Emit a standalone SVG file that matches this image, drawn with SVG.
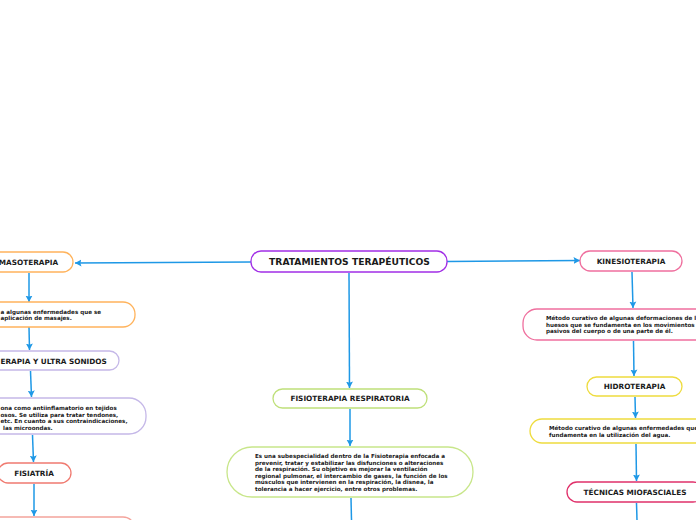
<svg xmlns="http://www.w3.org/2000/svg" width="696" height="520" viewBox="0 0 696 520">
<style>
.n{fill:#fff;stroke-width:1.3}
.t{font-family:"DejaVu Sans",Verdana,sans-serif;font-weight:bold;fill:#1a1a1a}
.h{font-size:7.3px;text-anchor:middle}
.d{font-size:5.6px}
.c path{fill:none;stroke:#1e98e6;stroke-width:1.5}
</style>
<defs>
<marker id="a" markerUnits="userSpaceOnUse" markerWidth="8" markerHeight="8" refX="6.5" refY="4" orient="auto">
<path d="M0,0.5 L6.5,4 L0,7.5 L1.2,4 z" fill="#1e98e6"/>
</marker>
</defs>
<rect width="696" height="520" fill="#fff"/>
<g class="c">
<path d="M251,262 L75,263" marker-end="url(#a)"/>
<path d="M447,261.5 L580,260.5" marker-end="url(#a)"/>
<path d="M349,273 L349.5,388" marker-end="url(#a)"/>
<path d="M29,273 L29,302" marker-end="url(#a)"/>
<path d="M29,327 L29.5,350" marker-end="url(#a)"/>
<path d="M30.5,371 L31.5,397" marker-end="url(#a)"/>
<path d="M32.5,435 L33.5,462" marker-end="url(#a)"/>
<path d="M34,484 L34,516" marker-end="url(#a)"/>
<path d="M350,409 L350,446" marker-end="url(#a)"/>
<path d="M351,498 L351.5,520"/>
<path d="M632,272 L633,308" marker-end="url(#a)"/>
<path d="M633.5,341 L634,376" marker-end="url(#a)"/>
<path d="M635,397 L635.5,418" marker-end="url(#a)"/>
<path d="M636,444 L636.5,481" marker-end="url(#a)"/>
<path d="M636.5,503 L637,520"/>
</g>
<g id="root">
<rect class="n" x="251" y="251" width="196" height="21" rx="10" stroke="#a12ee6"/>
<text class="t" x="349.5" y="265.2" font-size="9.2" text-anchor="middle">TRATAMIENTOS TERAPÉUTICOS</text>
</g>
<g id="masoterapia">
<rect class="n" x="-16" y="252" width="89" height="20" rx="10" stroke="#ffb35c"/>
<text class="t h" x="28.5" y="264.6">MASOTERAPIA</text>
</g>
<g id="masoterapia-desc">
<rect class="n" x="-80" y="302" width="215" height="25" rx="12" stroke="#ffb35c"/>
<text class="t d" x="0.5" y="313.6">a algunas enfermedades que se</text>
<text class="t d" x="0.5" y="320.2">aplicación de masajes.</text>
</g>
<g id="ultrasonidos">
<rect class="n" x="-60" y="351" width="179" height="19" rx="9.5" stroke="#c5b8e8"/>
<text class="t" x="0.5" y="363.6" font-size="7.3">ERAPIA Y ULTRA SONIDOS</text>
</g>
<g id="ultrasonidos-desc">
<rect class="n" x="-80" y="398" width="226" height="36" rx="17" stroke="#c5b8e8"/>
<text class="t d" x="0.5" y="410">ona como antiinflamatorio en tejidos</text>
<text class="t d" x="0.5" y="416.6">osos. Se utiliza para tratar tendones,</text>
<text class="t d" x="0.5" y="423.2">etc. En cuanto a sus contraindicaciones,</text>
<text class="t d" x="3" y="429.8">las microondas.</text>
</g>
<g id="fisiatria">
<rect class="n" x="-2" y="463" width="73" height="20" rx="10" stroke="#f07a70"/>
<text class="t h" x="34" y="475.6">FISIATRÍA</text>
</g>
<g id="fisiatria-desc">
<rect class="n" x="-60" y="517" width="195" height="40" rx="12" stroke="#f4a49c"/>
</g>
<g id="fisio-resp">
<rect class="n" x="273" y="389" width="154" height="19" rx="9.5" stroke="#bfe07a"/>
<text class="t h" x="350" y="400.6">FISIOTERAPIA RESPIRATORIA</text>
</g>
<g id="fisio-resp-desc">
<rect class="n" x="227" y="447" width="246" height="50" rx="25" stroke="#c8e68a"/>
<text class="t d" x="255" y="458">Es una subespecialidad dentro de la Fisioterapia enfocada a</text>
<text class="t d" x="255" y="464.6">prevenir, tratar y estabilizar las disfunciones o alteraciones</text>
<text class="t d" x="255" y="471.2">de la respiración. Su objetivo es mejorar la ventilación</text>
<text class="t d" x="255" y="477.8">regional pulmonar, el intercambio de gases, la función de los</text>
<text class="t d" x="255" y="484.4">músculos que intervienen en la respiración, la disnea, la</text>
<text class="t d" x="255" y="491">tolerancia a hacer ejercicio, entre otros problemas.</text>
</g>
<g id="kinesioterapia">
<rect class="n" x="580" y="251" width="102" height="20" rx="10" stroke="#ef6f9e"/>
<text class="t h" x="631" y="263.6">KINESIOTERAPIA</text>
</g>
<g id="kinesioterapia-desc">
<rect class="n" x="523" y="309" width="200" height="31" rx="14" stroke="#ef6f9e"/>
<text class="t d" x="546" y="320">Método curativo de algunas deformaciones de los</text>
<text class="t d" x="546" y="326.6">huesos que se fundamenta en los movimientos a</text>
<text class="t d" x="546" y="333.2">pasivos del cuerpo o de una parte de él.</text>
</g>
<g id="hidroterapia">
<rect class="n" x="587" y="377" width="95" height="19" rx="9.5" stroke="#eedc3e"/>
<text class="t h" x="634.5" y="389.1">HIDROTERAPIA</text>
</g>
<g id="hidroterapia-desc">
<rect class="n" x="530" y="419" width="200" height="24" rx="12" stroke="#eedc3e"/>
<text class="t d" x="549" y="430">Método curativo de algunas enfermedades que se</text>
<text class="t d" x="549" y="436.6">fundamenta en la utilización del agua.</text>
</g>
<g id="tecnicas">
<rect class="n" x="567" y="482" width="136" height="20" rx="10" stroke="#e0306a"/>
<text class="t h" x="635" y="494.6">TÉCNICAS MIOFASCIALES</text>
</g>
</svg>
